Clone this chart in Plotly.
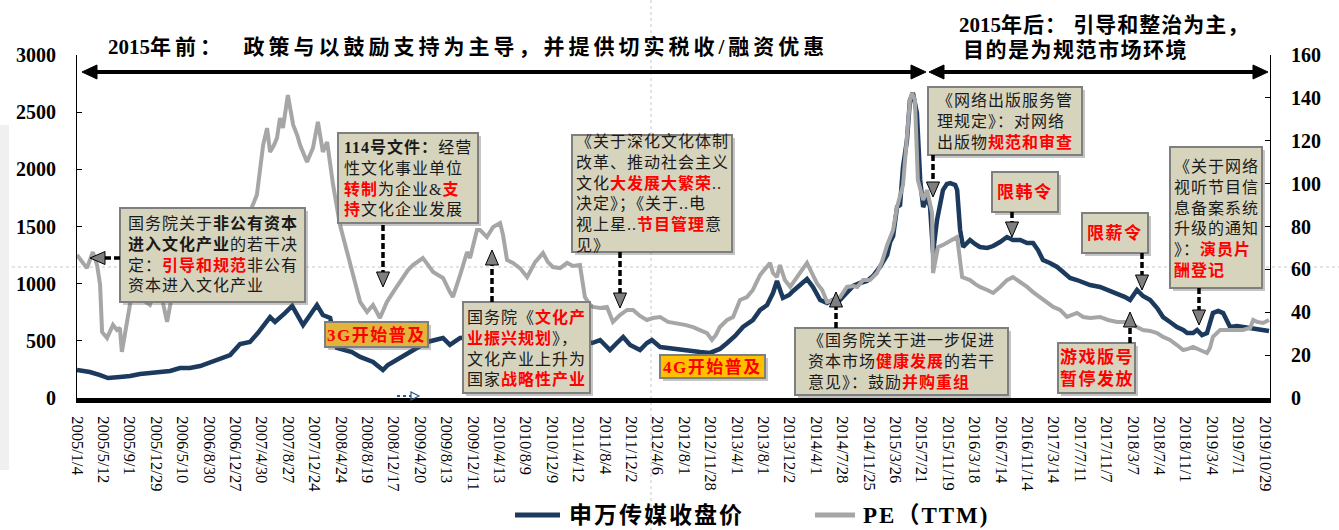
import plotly.graph_objects as go

# 申万传媒指数收盘价：交易日序号（2005/1/4 记为 0）与收盘点位
close_day = [0, 39, 70, 94, 130, 161, 191, 221, 252, 282, 312, 342, 373, 403, 433, 464, 494, 524,
             548, 570, 585, 600, 615, 630, 652, 667, 685, 700, 727, 745, 767, 788, 812, 833, 858,
             879, 897, 912, 927, 942, 958, 979, 1009, 1039, 1061, 1085, 1109, 1130, 1145, 1161,
             1206, 1252, 1297, 1342, 1388, 1433, 1479, 1524, 1561, 1585, 1615, 1636, 1655, 1676,
             1706, 1727, 1742, 1767, 1791, 1818, 1842, 1867, 1888, 1918, 1933, 1948, 1970, 1994,
             2018, 2048, 2070, 2091, 2109, 2121, 2139, 2158, 2170, 2191, 2212, 2230, 2252, 2273,
             2291, 2312, 2333, 2352, 2373, 2394, 2412, 2433, 2455, 2464, 2473, 2485, 2494, 2503,
             2515, 2524, 2533, 2545, 2555, 2564, 2576, 2585, 2594, 2606, 2624, 2636, 2646, 2661,
             2667, 2676, 2685, 2706, 2721, 2736, 2758, 2776, 2797, 2818, 2836, 2858, 2879, 2897,
             2912, 2927, 2948, 2970, 2988, 3009, 3030, 3049, 3070, 3100, 3124, 3152, 3176, 3191,
             3212, 3230, 3252, 3273, 3291, 3312, 3333, 3352, 3364, 3382, 3394, 3409, 3424, 3442,
             3458, 3473, 3494, 3515, 3533, 3555, 3576, 3594, 3612]
close_val = [245, 227, 201, 175, 184, 192, 210, 219, 227, 236, 262, 262, 280, 315, 350, 376, 472, 490,
             568, 656, 708, 665, 700, 743, 805, 735, 638, 700, 813, 726, 700, 437, 420, 402, 359,
             332, 315, 280, 245, 289, 315, 350, 402, 455, 490, 507, 525, 464, 490, 525,
             534, 568, 542, 507, 568, 525, 490, 507, 481, 507, 420, 481, 534, 464,
             420, 481, 507, 446, 437, 420, 411, 402, 402, 394, 411, 429, 481, 542,
             621, 682, 770, 813, 918, 1023, 875, 901, 936, 988, 1041, 971, 857, 831,
             857, 857, 927, 980, 1006, 1023, 1067, 1146, 1251, 1364, 1417, 1670, 1688, 2020,
             2256, 2606, 2668, 2493, 1907, 1670, 1758, 1670, 1268, 1557, 1819, 1872, 1880, 1863,
             1819, 1469, 1321, 1382, 1347, 1321, 1312, 1329, 1364, 1408, 1382, 1382, 1356, 1356,
             1294, 1207, 1181, 1146, 1102, 1050, 1032, 1006, 988, 971, 945, 918, 883, 857,
             945, 892, 857, 787, 708, 665, 621, 595, 568, 568, 595, 551, 568, 743,
             761, 743, 621, 630, 621, 612, 595, 586, 586]

# 板块市盈率 PE（TTM）
pe_day = [0, 15, 30, 48, 61, 70, 76, 91, 109, 121, 130, 136, 152, 167, 191, 221, 236, 252, 273, 288,
          312, 342, 373, 403, 433, 464, 494, 509, 524, 545, 555, 564, 576, 585, 597, 606, 615, 624,
          639, 655, 667, 676, 697, 715, 730, 745, 758, 776, 797, 818, 836, 858, 879, 897, 918, 939,
          958, 973, 988, 1003, 1018, 1033, 1048, 1064, 1079, 1094, 1109, 1130, 1139, 1161, 1182,
          1191, 1212, 1221, 1242, 1261, 1282, 1291, 1303, 1321, 1342, 1364, 1388, 1412, 1427, 1442,
          1464, 1485, 1503, 1524, 1539, 1555, 1564, 1585, 1606, 1624, 1645, 1667, 1685, 1706, 1727,
          1745, 1767, 1791, 1818, 1842, 1867, 1888, 1909, 1924, 1936, 1948, 1970, 1988, 2009, 2030,
          2048, 2070, 2091, 2100, 2109, 2121, 2130, 2145, 2161, 2182, 2200, 2212, 2227, 2242, 2258,
          2273, 2291, 2312, 2333, 2352, 2364, 2382, 2403, 2424, 2439, 2455, 2473, 2485, 2503, 2515,
          2524, 2530, 2539, 2548, 2564, 2576, 2591, 2594, 2609, 2624, 2636, 2652, 2667, 2682, 2694,
          2706, 2721, 2736, 2758, 2776, 2797, 2818, 2836, 2858, 2879, 2897, 2918, 2939, 2958, 2979,
          3000, 3030, 3049, 3070, 3100, 3124, 3152, 3176, 3191, 3212, 3230, 3252, 3273, 3291, 3312,
          3333, 3352, 3367, 3382, 3403, 3424, 3433, 3442, 3464, 3479, 3494, 3515, 3533, 3555, 3564,
          3576, 3594, 3612]
pe_val = [66.7, 63.4, 60.6, 68.1, 62.0, 52.7, 30.8, 28.0, 34.1, 31.7, 32.7, 21.5, 37.3, 49.4, 46.7,
          43.4, 49.4, 50.4, 35.5, 48.0, 51.3, 52.7, 55.0, 59.7, 63.4, 71.4, 79.3, 83.0, 86.8, 94.7,
          107.3, 118.0, 125.9, 114.8, 118.0, 121.3, 130.6, 126.0, 141.3, 127.4, 122.7, 118.0, 110.1,
          116.6, 128.8, 114.8, 119.4, 99.4, 80.7, 68.1, 58.8, 44.8, 40.1, 43.4, 37.3, 44.8, 49.4,
          52.7, 56.0, 59.7, 62.0, 63.4, 65.3, 62.0, 58.8, 57.4, 56.0, 49.4, 47.1, 57.4, 68.1, 65.3,
          78.4, 78.4, 75.1, 79.8, 81.6, 76.0, 64.4, 63.0, 60.6, 56.4, 63.4, 67.6, 63.4, 61.1, 60.6,
          63.0, 61.6, 62.0, 47.1, 43.4, 42.5, 42.0, 42.5, 35.5, 38.7, 41.1, 41.1, 38.3, 36.4, 37.3,
          37.8, 35.5, 35.0, 34.1, 33.1, 31.7, 30.3, 27.1, 29.4, 33.1, 36.4, 37.8, 45.7, 47.1, 50.4,
          57.4, 61.1, 63.0, 58.3, 56.4, 62.0, 55.0, 51.8, 56.4, 61.1, 63.0, 58.3, 53.6, 50.4, 44.8,
          45.7, 47.1, 51.8, 52.2, 51.8, 55.0, 55.0, 58.3, 63.4, 71.4, 78.4, 89.1, 99.4, 125.0,
          139.0, 142.3, 139.0, 101.7, 92.4, 97.0, 86.3, 58.3, 70.4, 71.4, 72.3, 73.7, 75.1, 56.4,
          55.5, 55.0, 53.2, 51.8, 50.4, 49.0, 51.8, 55.0, 56.4, 54.1, 51.8, 49.4, 47.1, 44.8, 42.5,
          41.1, 37.8, 39.7, 37.8, 37.3, 37.8, 36.4, 35.5, 35.5, 35.0, 33.1, 31.7, 31.3, 30.3, 28.5,
          27.1, 24.7, 22.4, 22.9, 23.8, 22.4, 21.0, 23.3, 28.5, 31.7, 31.7, 31.7, 31.3, 31.7, 32.7,
          36.4, 35.5, 35.0, 36.4]

# 横轴刻度：每 80 个交易日标注一次日期
tick_labels = ["2005/1/4", "2005/5/12", "2005/9/1", "2005/12/29", "2006/5/10", "2006/8/30",
               "2006/12/27", "2007/4/30", "2007/8/27", "2007/12/24", "2008/4/24", "2008/8/19",
               "2008/12/17", "2009/4/20", "2009/8/13", "2009/12/11", "2010/4/13", "2010/8/9",
               "2010/12/9", "2011/4/12", "2011/8/4", "2011/12/2", "2012/4/6", "2012/8/1",
               "2012/11/28", "2013/4/1", "2013/8/1", "2013/12/2", "2014/4/1", "2014/7/28",
               "2014/11/25", "2015/3/26", "2015/7/21", "2015/11/19", "2016/3/18", "2016/7/14",
               "2016/11/14", "2017/3/14", "2017/7/11", "2017/11/7", "2018/3/7", "2018/7/4",
               "2018/11/1", "2019/3/4", "2019/7/1", "2019/10/29"]
tick_step = 80

close_name = "申万传媒收盘价"
pe_name = "PE（TTM)"

# ---- 版面 ----
W, H = 1339, 530
ML, MR, MT, MB = 77, 69, 55, 132
PW, PH = W - ML - MR, H - MT - MB

NAVY = "#1C3A5E"
GREY = "#A6A6A6"
SERIF = "Liberation Serif, Noto Sans CJK SC"
NOTE_FILL = "#D7D4BE"


def px(x):
    return (x - ML) / PW


def py(y):
    return (H - MB - y) / PH


def red(s):
    return f'<span style="color:#FF0000"><b>{s}</b></span>'


def spaced(s, ls):
    return f'<span style="letter-spacing:{ls}px">{s}</span>'


fig = go.Figure()
fig.add_trace(go.Scatter(x=close_day, y=close_val, name=close_name, mode="lines",
                         line=dict(color=NAVY, width=4.5), yaxis="y", showlegend=False))
fig.add_trace(go.Scatter(x=pe_day, y=pe_val, name=pe_name, mode="lines",
                         line=dict(color=GREY, width=4), yaxis="y2", showlegend=False))

shapes = []
annotations = []

# 辅助参考线
shapes.append(dict(type="line", xref="paper", yref="paper", x0=px(651), x1=px(651), y0=py(0), y1=py(H),
                   line=dict(color="#C8C8C8", width=1, dash="dot"), layer="below"))
shapes.append(dict(type="line", xref="paper", yref="paper", x0=px(0), x1=px(W), y0=py(267), y1=py(267),
                   line=dict(color="#C8C8C8", width=1, dash="dot"), layer="below"))
shapes.append(dict(type="rect", xref="paper", yref="paper", x0=px(0), x1=px(9), y0=py(125), y1=py(470),
                   fillcolor="#F0F0F0", line=dict(width=0), layer="below"))


def tri(tip, base, half):
    dx, dy = tip[0] - base[0], tip[1] - base[1]
    n = (dx * dx + dy * dy) ** 0.5
    nx, ny = -dy / n * half, dx / n * half
    pts = [tip, (base[0] + nx, base[1] + ny), (base[0] - nx, base[1] - ny)]
    return "M " + " L ".join(f"{px(a):.5f},{py(b):.5f}" for a, b in pts) + " Z"


def head(tip, base, half, fill, outline):
    shapes.append(dict(type="path", xref="paper", yref="paper", path=tri(tip, base, half),
                       fillcolor=fill, line=dict(color=outline, width=1)))


# 顶部阶段双向箭头
for xa, xb in [(82, 926), (929, 1268)]:
    shapes.append(dict(type="line", xref="paper", yref="paper", x0=px(xa + 10), x1=px(xb - 10),
                       y0=py(72), y1=py(72), line=dict(color="black", width=4)))
    head((xa, 72), (xa + 15, 72), 7, "black", "black")
    head((xb, 72), (xb - 15, 72), 7, "black", "black")

annotations.append(dict(xref="paper", yref="paper", x=px(106), y=py(47), xanchor="left", yanchor="middle",
                        showarrow=False, font=dict(family=SERIF, size=21, color="black"),
                        text="<b>2015" + spaced("年前：  政策与以鼓励支持为主导，并提供切实税收/融资优惠", 4) + "</b>"))
annotations.append(dict(xref="paper", yref="paper", x=px(957), y=py(25), xanchor="left", yanchor="middle",
                        showarrow=False, font=dict(family=SERIF, size=21, color="black"),
                        text="<b>2015" + spaced("年后： 引导和整治为主，", 1) + "</b>"))
annotations.append(dict(xref="paper", yref="paper", x=px(961), y=py(50), xanchor="left", yanchor="middle",
                        showarrow=False, font=dict(family=SERIF, size=21, color="black"),
                        text=spaced("<b>目的是为规范市场环境</b>", 1.5)))

# 政策事件标注框：(左, 上, 右, 下, 文本行, 样式)
notes = [
    (120, 208, 305, 302, ["国务院关于<b>非公有资本</b>", "<b>进入文化产业</b>的若干决",
                          "定：" + red("引导和规范") + "非公有", "资本进入文化产业"], "note"),
    (338, 133, 478, 223, ["<b>114号文件：</b>经营", "性文化事业单位",
                          red("转制") + "为企业&amp;" + red("支"), red("持") + "文化企业发展"], "note"),
    (325, 322, 428, 347, [red("3G开始普及")], "g3"),
    (463, 302, 590, 393, ["国务院《" + red("文化产"), red("业振兴规划") + "》，",
                          "文化产业上升为", "国家" + red("战略性产业")], "note"),
    (572, 135, 732, 252, ["《关于深化文化体制", "改革、推动社会主义", "文化" + red("大发展大繁荣") + "..",
                          "决定》；《关于..电", "视上星.." + red("节目管理") + "意", "见》"], "note"),
    (660, 355, 765, 378, [red("4G开始普及")], "g4"),
    (795, 328, 1008, 395, ["《国务院关于进一步促进", "资本市场" + red("健康发展") + "的若干",
                           "意见》：鼓励" + red("并购重组")], "note"),
    (928, 87, 1082, 155, ["《网络出版服务管", "理规定》：对网络", "出版物" + red("规范和审查")], "note"),
    (992, 172, 1058, 212, [red("限韩令")], "tag"),
    (1082, 213, 1148, 253, [red("限薪令")], "tag"),
    (1058, 343, 1135, 393, [red("游戏版号"), red("暂停发放")], "tag"),
    (1170, 147, 1262, 288, ["《关于网络", "视听节目信", "息备案系统", "升级的通知",
                            "》：" + red("演员片"), red("酬登记")], "note"),
]

fills = {"note": NOTE_FILL, "tag": NOTE_FILL, "g3": "#E3B43A", "g4": "#FFC000"}
for x0, y0, x1, y1, lines, kind in notes:
    shapes.append(dict(type="rect", xref="paper", yref="paper", x0=px(x0 + 3), x1=px(x1 + 3),
                       y0=py(y1 + 3), y1=py(y0 + 3), fillcolor="rgba(90,90,90,0.35)", line=dict(width=0)))
    shapes.append(dict(type="rect", xref="paper", yref="paper", x0=px(x0), x1=px(x1),
                       y0=py(y1), y1=py(y0), fillcolor=fills[kind], line=dict(color="#7F7F7F", width=2)))
    size = 16 if kind == "note" else 17
    ls = 1 if kind == "note" else 1.5
    annotations.append(dict(xref="paper", yref="paper", x=px((x0 + x1) / 2), y=py((y0 + y1) / 2),
                            xanchor="center", yanchor="middle", align="left", showarrow=False,
                            font=dict(family=SERIF, size=size, color="#1A1A1A"),
                            text="<br>".join(spaced(s, ls) for s in lines)))

# 指向事件时点的虚线箭头：(起点, 箭头尖)
pointers = [
    ((120, 258), (90, 258)),
    ((383, 225), (383, 287)),
    ((492, 302), (492, 250)),
    ((620, 252), (620, 308)),
    ((836, 328), (836, 292)),
    ((933, 155), (933, 197)),
    ((1012, 212), (1012, 237)),
    ((1142, 253), (1142, 290)),
    ((1130, 343), (1130, 312)),
    ((1199, 288), (1199, 325)),
]
for (sx, sy), (tx, ty) in pointers:
    dx, dy = tx - sx, ty - sy
    n = (dx * dx + dy * dy) ** 0.5
    bx, by = tx - 15 * dx / n, ty - 15 * dy / n
    shapes.append(dict(type="line", xref="paper", yref="paper", x0=px(sx), y0=py(sy), x1=px(bx), y1=py(by),
                       line=dict(color="black", width=3.5, dash="6px,3px")))
    head((tx, ty), (bx, by), 6.5, "#7F7F7F", "black")

# 横轴上的小箭头标记
shapes.append(dict(type="line", xref="paper", yref="paper", x0=px(397), x1=px(411), y0=py(396), y1=py(396),
                   line=dict(color="#2E5C8A", width=2, dash="dot")))
shapes.append(dict(type="path", xref="paper", yref="paper", path=tri((419, 396), (411, 396), 4),
                   fillcolor="rgba(0,0,0,0)", line=dict(color="#2E5C8A", width=1.2)))

# 图例
for (xa, xb), color, label, tx in [((515, 560), NAVY, close_name, 567), ((815, 855), GREY, pe_name, 861)]:
    shapes.append(dict(type="line", xref="paper", yref="paper", x0=px(xa), x1=px(xb), y0=py(515), y1=py(515),
                       line=dict(color=color, width=5)))
    annotations.append(dict(xref="paper", yref="paper", x=px(tx), y=py(515), xanchor="left", yanchor="middle",
                            showarrow=False, font=dict(family=SERIF, size=23, color="black"),
                            text=spaced(f"<b>{label}</b>", 2)))

axis_font = dict(family="Liberation Serif", size=20, color="black", weight="bold")
fig.update_layout(
    width=W, height=H,
    margin=dict(l=ML, r=MR, t=MT, b=MB, pad=0),
    paper_bgcolor="white", plot_bgcolor="white",
    showlegend=False,
    xaxis=dict(range=[0, 3615], tickvals=[i * tick_step for i in range(len(tick_labels))],
               ticktext=tick_labels, tickangle=90, tickfont=dict(family="Liberation Serif", size=16.5, color="black"),
               showline=True, linewidth=5, linecolor="black", ticks="", showgrid=False, zeroline=False,
               ticklabelstandoff=10, automargin=False),
    yaxis=dict(range=[0, 3000], tickvals=list(range(0, 3001, 500)), ticks="inside", ticklen=5,
               tickcolor="black", showline=True, linewidth=1, linecolor="black", showgrid=False,
               zeroline=False, tickfont=axis_font, ticklabelstandoff=16, automargin=False),
    yaxis2=dict(range=[0, 160], tickvals=list(range(0, 161, 20)), overlaying="y", side="right",
                ticks="inside", ticklen=5, tickcolor="black", showline=True, linewidth=1, linecolor="black",
                showgrid=False, zeroline=False, tickfont=axis_font, ticklabelstandoff=16, automargin=False),
    shapes=shapes,
    annotations=annotations,
)

fig.write_html("out.html")
